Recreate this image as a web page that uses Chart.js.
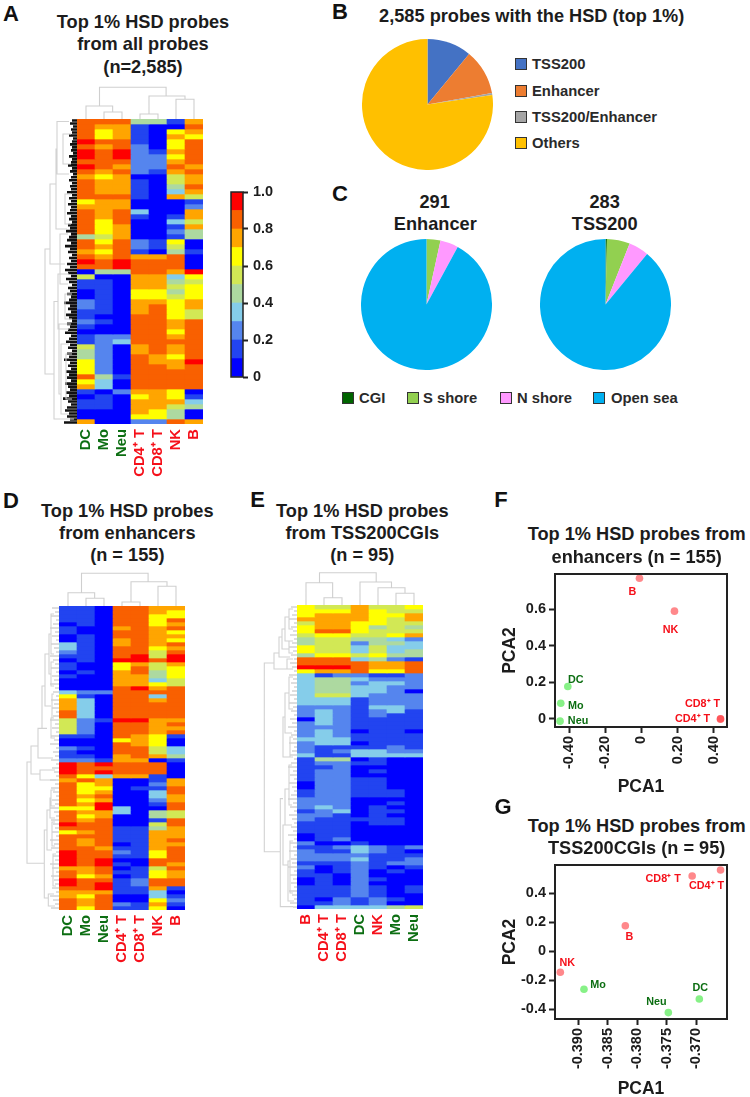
<!DOCTYPE html>
<html><head><meta charset="utf-8">
<style>
html,body{margin:0;padding:0;background:#fff;width:750px;height:1097px;overflow:hidden}
body{position:relative;font-family:"Liberation Sans",Arial,sans-serif;filter:blur(.35px)}
canvas{position:absolute;display:block}
.t{position:absolute;transform:translate(-50%,-50%);white-space:nowrap;font-weight:bold;color:#1c1c1c;font-size:18.2px;line-height:1}
.p{font-size:22px;color:#111}
.l{position:absolute;transform:translateY(-50%);white-space:nowrap;font-weight:bold;color:#2a2a2a;font-size:14.8px;line-height:1}
.s{position:absolute;width:10px;height:10px;border:1.5px solid #333;transform:translateY(-50%)}
</style>
<script src="https://cdn.jsdelivr.net/npm/chart.js@4"></script>
</head><body>
<script>
// ---------- heat-map palette (value bin 0..9 = 0.0-0.1 ... 0.9-1.0)
const bins=['#0000ff','#2244f0','#5585ee','#85cdea','#add9a0','#d2e855','#ffff00','#ffa500','#f96000','#ff0000'];
const binValues=[0.1,0.1,0.1,0.1,0.1,0.1,0.1,0.1,0.1,0.1];
const barTicks=[0,0.2,0.4,0.6,0.8,1];

const colsAD=['DC','Mo','Neu','CD4\u207A T','CD8\u207A T','NK','B'];
const colsE=['B','CD4\u207A T','CD8\u207A T','DC','NK','Mo','Neu'];
const GREEN='#0c6e12',RED='#f5101a';
const colColorAD=[GREEN,GREEN,GREEN,RED,RED,RED,RED];
const colColorE=[RED,RED,RED,GREEN,RED,GREEN,GREEN];

const heatA=[
[8,8,8,4,4,1,7],[8,7,7,1,0,0,8],[8,6,7,1,0,6,7],[8,6,7,1,0,7,6],[9,8,8,1,0,6,8],[8,7,8,2,0,6,8],
[9,8,9,2,1,7,8],[9,8,9,2,2,6,8],[8,8,8,2,2,7,8],[9,8,7,2,2,8,7],[8,7,8,2,1,7,8],[7,6,7,0,0,5,7],
[8,7,7,1,0,5,7],[8,7,7,1,0,4,8],[8,7,7,1,0,3,7],[8,8,8,1,0,7,5],[6,7,7,0,0,0,1],[7,7,7,0,0,0,2],
[8,7,8,3,0,0,7],[8,7,8,1,0,1,7],[8,6,8,0,0,3,5],[8,6,7,0,0,1,7],[8,6,7,0,0,2,4],[4,5,7,0,0,1,4],
[8,6,8,2,1,6,0],[8,7,8,2,1,5,0],[7,6,8,1,0,4,1],[8,7,8,7,7,8,0],[9,8,9,8,8,8,0],[8,8,9,8,8,8,0],
[0,4,4,8,8,7,9],[5,0,0,7,7,3,6],[1,1,0,7,7,4,5],[1,1,0,7,7,5,6],[0,1,0,6,6,4,6],[0,1,0,6,6,5,6],
[2,1,0,7,7,6,7],[2,1,0,7,8,6,7],[1,1,0,7,8,6,5],[1,0,0,8,8,6,5],[2,1,0,8,8,7,8],[1,0,0,8,8,7,8],
[0,0,0,8,8,6,8],[1,2,2,8,8,7,8],[1,2,3,8,8,8,8],[5,2,0,7,8,7,8],[4,2,0,7,8,7,8],[4,2,0,8,7,6,8],
[6,2,0,8,7,7,9],[6,2,0,8,8,7,8],[6,2,0,8,8,8,8],[8,4,1,8,8,8,8],[6,3,0,8,8,8,8],[7,3,0,8,8,8,8],
[1,0,2,7,7,6,0],[0,1,0,6,7,6,1],[1,1,0,7,7,7,3],[1,1,0,7,7,5,4],[0,0,0,7,6,4,0],[0,0,0,6,6,4,0],
[7,0,0,2,2,8,7]];

const heatD=[
[1,1,0,8,8,7,7],[1,1,0,8,8,7,6],[1,1,0,8,8,6,6],[1,1,0,8,8,6,8],[0,1,0,8,8,6,7],[1,0,0,7,8,7,8],
[1,0,0,8,8,7,6],[0,1,0,8,8,7,7],[0,1,0,7,8,7,6],[3,1,0,7,8,7,8],[3,1,0,8,8,6,7],[2,1,0,8,8,5,8],
[1,1,0,8,9,5,9],[0,1,0,9,9,8,9],[1,0,0,6,7,5,7],[1,0,0,6,8,5,6],[0,1,0,7,8,4,6],[1,0,0,7,7,4,6],
[0,0,0,7,7,3,5],[0,0,0,7,7,6,5],[0,0,0,8,9,7,8],[3,2,2,8,8,8,8],[6,1,0,8,8,3,8],[7,3,0,8,8,7,8],
[7,3,0,8,8,8,8],[7,3,0,8,8,8,8],[8,3,0,8,8,8,8],[8,3,0,8,8,8,8],[5,2,1,9,9,7,7],[5,2,0,8,8,7,8],
[5,2,0,8,8,7,7],[5,2,0,8,8,7,8],[1,1,0,8,7,6,1],[0,0,0,6,7,6,0],[0,0,0,8,7,6,0],[2,1,0,8,8,5,3],
[1,0,0,8,8,5,3],[1,1,0,7,8,7,4],[2,2,1,7,7,0,1],[9,8,9,8,8,8,0],[9,8,8,8,8,8,0],[9,8,9,8,8,8,0],
[8,6,3,7,7,1,0],[7,8,7,0,0,1,7],[8,6,7,0,0,2,7],[8,6,6,0,1,1,8],[8,6,7,0,0,3,8],[8,7,8,0,0,3,7],
[8,6,7,0,0,2,7],[8,7,9,0,0,1,8],[6,6,9,3,0,0,8],[8,7,7,3,0,4,5],[8,6,7,0,0,4,5],[8,7,8,0,0,1,8],
[9,8,8,0,0,5,8],[8,8,8,1,1,4,7],[6,7,8,1,1,7,7],[8,8,8,1,1,7,7],[8,7,8,1,1,7,8],[8,7,8,0,1,7,7],
[8,8,7,1,1,7,8],[9,8,8,2,1,6,8],[9,8,8,1,1,6,8],[9,8,9,0,0,8,8],[9,8,9,1,0,8,7],[7,7,8,0,1,5,8],
[8,7,8,1,1,6,7],[8,6,7,0,1,6,7],[9,8,8,1,2,8,8],[9,8,9,1,2,8,8],[8,8,9,1,1,7,1],[7,7,7,1,1,3,0],
[7,6,8,0,0,3,1],[8,7,8,0,0,6,2],[8,7,8,2,1,7,1],[8,6,8,1,1,6,0]];

const heatE=[
[6,5,5,7,5,5,6],[6,6,6,7,6,5,5],[6,7,7,7,6,6,7],[7,7,7,7,6,5,7],[5,7,7,6,6,5,5],[6,7,7,6,4,5,4],
[6,8,8,6,5,5,5],[5,6,6,5,5,6,7],[4,5,5,4,4,3,2],[4,5,5,2,4,4,3],[6,5,5,3,5,3,3],[6,5,5,3,5,3,4],
[4,6,6,5,6,4,4],[8,8,8,3,4,2,1],[8,8,8,8,7,7,8],[9,9,9,8,7,7,8],[6,7,7,8,6,6,8],[3,1,2,2,1,1,2],
[3,4,4,3,2,2,2],[3,4,4,2,3,3,2],[3,4,4,3,3,2,2],[3,4,4,3,3,2,0],[3,5,5,3,2,2,2],[3,3,3,1,2,2,2],
[3,3,3,1,2,2,2],[2,2,2,1,3,3,2],[2,3,2,1,2,3,1],[2,3,2,1,2,1,1],[0,3,2,1,1,1,1],[2,3,2,1,1,1,1],
[2,2,2,1,1,1,1],[2,3,2,0,1,1,0],[2,3,2,1,1,1,1],[3,3,3,1,1,1,1],[2,3,3,0,1,1,1],[2,1,1,1,1,2,1],
[2,1,2,3,3,2,2],[3,1,1,3,3,3,3],[1,4,4,0,1,0,0],[1,2,2,1,1,0,0],[1,1,2,0,0,0,0],[1,2,2,0,1,0,0],
[1,2,2,0,0,0,0],[1,2,2,1,1,0,0],[0,2,2,1,1,0,0],[0,2,2,1,1,0,0],[1,2,2,1,1,1,0],[1,2,2,1,1,1,0],
[2,2,2,0,0,0,0],[2,2,2,0,0,1,0],[2,3,2,0,1,0,0],[1,2,3,0,1,1,0],[2,2,1,0,1,0,0],[2,1,1,1,1,1,0],
[1,1,1,0,1,1,0],[1,1,1,0,0,0,0],[1,1,1,0,0,0,0],[0,1,1,0,0,0,0],[0,1,2,0,0,0,0],[2,0,0,1,0,0,0],
[1,1,2,3,2,1,2],[2,1,1,3,2,1,0],[2,2,2,2,1,1,1],[2,2,2,3,1,1,2],[1,1,1,2,1,2,2],[2,0,1,2,1,0,1],
[1,0,1,2,0,1,0],[1,1,0,2,0,0,0],[0,1,0,2,1,0,0],[0,1,0,2,0,0,0],[1,1,1,2,1,0,1],[1,1,1,2,1,0,1],
[1,1,1,2,1,0,0],[1,0,2,1,2,1,0],[1,1,2,1,2,0,0],[0,3,3,3,3,4,5]];

// ---------- column dendrograms: [leftPos, leftHeight, rightPos, rightHeight, mergeHeight]
const topTreeA=[[0.5,0,1.98,7,13],[1.5,0,2.5,0,7],[3.5,0,4.5,0,5],[5.5,0,6.5,0,19.7],[4,5,6,19.7,23],[1.25,13,4.95,23,31.7]];
const topTreeD=[[0.5,0,1.98,7.7,13.3],[1.5,0,2.5,0,7.7],[3.5,0,4.5,0,4],[5.5,0,6.5,0,19.7],[4,4,6,19.7,24.3],[1.25,13.3,4.95,24.3,32.7]];
const topTreeE=[[0.5,0,1.98,7.3,22.3],[1.5,0,2.5,0,7.3],[5.5,0,6.5,0,11.7],[4.5,0,6.0,11.7,17.3],[3.5,0,5.25,17.3,23],[1.25,22.3,4.4,23,32.3]];

// ---------- row dendrograms: [row1, dist1, row2, dist2, mergeDist]
const rowTreeA=[[0.5,8,11,8,20],[6,20,22,10,21],[13,21,29,12,27],[23,9,33,9,17],[31,8,42,8,19],[45,8,59,8,16],[36.5,19,60,3,23],[41,6,55,16,18],[26,27,51,23,32],[3,6,9,6,14],[15,6,21,6,12],[35,5,40,5,12],[47,5,56,5,11]];
const rowTreeD=[[2,5,12,5,8],[14,5,20,5,8],[7,8,17,8,10],[22,5,28,5,7],[28,5,33,4,8],[12,10,25,8,14],[20,14,30.6,12,17],[30.6,17,38,6,21],[35,21,42,19,28],[41,4,43.5,3,19],[39,28,64.3,14.7,32],[46,4,50,4,8],[48,8,53,4,9],[51,9,61,7,12],[56,12,73,10.7,14.7],[54,4,60,4,7],[62,3,70,3,6],[72,5,75,4,10.7]];
const rowTreeE=[[1,4,6,4,8],[3,8,9,8,12],[9,4,12,4,8],[6,12,11,8,15],[8,15,13,7,18],[12,18,16,10,23],[13.5,4,16,4,10],[18,4,26,4,8],[22,8,32,5,12],[33,4,38,4,7],[28,12,38,7,14],[40,5,50,5,8],[46,8,55,5,12],[59,4,72,4,7],[64,7,74,3,9],[55,12,65,9,14],[48.4,14,75.4,4,16.7],[14.5,23,61.7,16.7,32.7]];
// leaf lengths, top to bottom
const leavesA=[5,7,4,6,5,8,4,5,7,5,6,4,8,5,6,9,5,7,4,6,8,5,7,6,10,5,8,6,9,6,7,10,6,8,5,9,7,11,6,8,10,6,12,7,9,5,8,6,10,7,12,9,6,11,8,5,9,7,10,6,8,13,7,9,6,11,8,5,10,7,9,12,6,8,11,7,9,5,10,8,13,7,9,6,11,8,10,6,12,9,7,11,8,14,9,6,10,12,8,10,7,13];
const leavesD=[7,4,8,3,6,9,4,7,3,8,5,3,9,6,4,8,3,7,5,9,4,6,3,8,5,7,3,6,9,4,7,3,8,5,9,3,6,4,8,3,7,5,3,9,4,8,6,3,7,4,9,5,3,8,6,4,7,3,9,5,8,3,6,4,9,7,3,8,5,4,7,3,9,6,4,8];
const leavesE=[6,3,5,8,3,6,4,7,3,5,8,4,6,3,7,5,3,8,4,6,3,5,7,3,8,4,6,3,7,5,9,3,6,4,8,3,5,7,3,6,9,4,7,3,8,5,3,6,9,4,7,3,8,5,3,6,4,9,3,7,4,8,3,6,5,9,3,7,4,6,3,8,5,3,7,4];

// ---------- pies
const pieBLabels=['TSS200','Enhancer','TSS200/Enhancer','Others'];
const pieBValues=[283,291,13,1998];
const pieBColors=['#4472c4','#ed7d31','#a5a5a5','#ffc000'];
const pieCLabels=['CGI','S shore','N shore','Open sea'];
const pieC1Values=[0,10,13,268];
const pieC2Values=[1,16,14,252];
const pieCColors=['#006400','#92d050','#ff99ff','#00b0f0'];

// ---------- PCA
const pcaNames=['B','NK','DC','Mo','Neu','CD8\u207A T','CD4\u207A T'];
const pcaF1=[-0.011,0.183,-0.408,-0.447,-0.451,0.438,0.438];
const pcaF2=[0.769,0.589,0.177,0.086,-0.012,0.001,-0.001];
const pcaG1=[-0.3820,-0.39299,-0.36949,-0.38899,-0.37473,-0.3707,-0.3659];
const pcaG2=[0.175,-0.145,-0.329,-0.262,-0.423,0.517,0.559];
const pcaIsT=[1,1,0,0,0,1,1];
const pcaFxTicks=[-0.4,-0.2,0,0.2,0.4];
const pcaFyTicks=[0,0.2,0.4,0.6];
const pcaGxTicks=[-0.39,-0.385,-0.38,-0.375,-0.37];
const pcaGyTicks=[-0.4,-0.2,0,0.2,0.4];
// label offsets from their point
const pcaFdx=[-7,-4,8,15,18,-18,-28],pcaFdy=[14,19,-7,3,0,-15,0];
const pcaGdx=[4,7,1,14,-12,-29,-14],pcaGdy=[11,-9,-11,-4,-11,3,16];

// ---------- page helpers
Chart.defaults.font.family='"Liberation Sans",Arial,sans-serif';
Chart.defaults.animation=false;
Chart.defaults.responsive=false;
Chart.defaults.maintainAspectRatio=false;
Chart.defaults.plugins.legend.display=false;
Chart.defaults.plugins.tooltip.enabled=false;
Chart.defaults.plugins.title.display=false;

function canvas(l,t,w,h){const c=document.createElement('canvas');c.width=w;c.height=h;c.style.left=l+'px';c.style.top=t+'px';c.style.width=w+'px';c.style.height=h+'px';document.body.appendChild(c);return c;}
function text(s,cx,cy,cls){const d=document.createElement('div');d.className='t '+(cls||'');d.textContent=s;d.style.left=cx+'px';d.style.top=cy+'px';document.body.appendChild(d);}
function legend(label,color,sx,tx,cy){const b=document.createElement('div');b.className='s';b.style.left=sx+'px';b.style.top=cy+'px';b.style.background=color;document.body.appendChild(b);
 const d=document.createElement('div');d.className='l';d.textContent=label;d.style.left=tx+'px';d.style.top=cy+'px';document.body.appendChild(d);}

function heatmap(rows,labels,colors,l,t,rowPx,colPx){
 const H=rows.length*rowPx;
 new Chart(canvas(l,t,colPx*7,H+66),{type:'bar',
  data:{labels,datasets:rows.map(r=>({data:r.map(()=>1),backgroundColor:r.map(v=>bins[v]),borderWidth:0,barPercentage:1,categoryPercentage:1}))},
  options:{layout:{padding:0},
   scales:{
    x:{stacked:true,grid:{display:false,drawTicks:false},border:{display:false},
       afterFit:s=>{s.height=66;s.paddingLeft=0;s.paddingRight=0;},
       ticks:{autoSkip:false,minRotation:90,maxRotation:90,padding:5,color:c=>colors[c.index],font:{size:14.8,weight:'bold'}}},
    y:{stacked:true,display:false,reverse:true,min:0,max:rows.length}}}});
}
function treePoints(m,fx,fy){const p=[];m.forEach(a=>{p.push(fx(a[0],a[1]),fx(a[0],a[4]),fx(a[2],a[4]),fx(a[2],a[3]),{x:null,y:null});});return p;}
function topTree(m,l,t,w,h){
 new Chart(canvas(l,t,w,h),{type:'scatter',
  data:{datasets:[{data:treePoints(m,(p,v)=>({x:p,y:v})),showLine:true,spanGaps:false,pointRadius:0,borderColor:'#cfcfcf',borderWidth:1.1,clip:false}]},
  options:{layout:{padding:0},scales:{x:{display:false,min:0,max:7},y:{display:false,min:0,max:h}}}});
}
function rowTree(m,leaves,leafColor,leafW,rows,l,t,w,h){
 const lp=[];leaves.forEach((v,i)=>{const r=(i+0.5)*rows/leaves.length;lp.push({x:0,y:r},{x:v,y:r},{x:null,y:null});});
 new Chart(canvas(l,t,w,h),{type:'scatter',
  data:{datasets:[
   {data:treePoints(m,(p,v)=>({x:v,y:p})),showLine:true,spanGaps:false,pointRadius:0,borderColor:'#d2d2d2',borderWidth:1.1,clip:false},
   {data:lp,showLine:true,spanGaps:false,pointRadius:0,borderColor:leafColor,borderWidth:leafW,clip:false}]},
  options:{layout:{padding:0},scales:{x:{display:false,min:0,max:w,reverse:true},y:{display:false,min:0,max:rows,reverse:true}}}});
}
function pie(values,colors,labels,cx,cy){
 const R=65.5;
 new Chart(canvas(cx-R,cy-R,131,131),{type:'pie',
  data:{labels,datasets:[{data:values,backgroundColor:colors,borderWidth:0}]},
  options:{layout:{padding:0},rotation:0}});
}
const boxPlugin={id:'box',afterDraw(c){const a=c.chartArea,x=c.ctx;x.save();x.strokeStyle='#222';x.lineWidth=2;x.strokeRect(a.left,a.top,a.right-a.left,a.bottom-a.top);x.restore();}};
const ptLabels={id:'ptLabels',afterDatasetsDraw(c,args,o){const x=c.ctx,ms=c.getDatasetMeta(0).data;x.save();x.font='bold 10.8px "Liberation Sans",Arial';x.textAlign='center';x.textBaseline='middle';
 ms.forEach((p,i)=>{x.fillStyle=pcaIsT[i]?RED:GREEN;x.fillText(pcaNames[i],p.x+o.dx[i],p.y+o.dy[i]);});x.restore();}};
function scatter(xs,ys,xTicks,yTicks,xr,yr,dx,dy,fx,fy,l,t,w,h,axisW,axisH){
 const tickFont={size:14.5,weight:'bold'},titleFont={size:17.5,weight:'bold'};
 new Chart(canvas(l,t,w,h),{type:'scatter',plugins:[boxPlugin,ptLabels],
  data:{datasets:[{data:xs.map((v,i)=>({x:v,y:ys[i]})),pointRadius:3.8,borderWidth:0,
     backgroundColor:xs.map((v,i)=>pcaIsT[i]?'rgba(255,50,55,.58)':'rgba(55,232,55,.6)')}]},
  options:{layout:{padding:{top:12,right:14}},plugins:{ptLabels:{dx,dy}},
   scales:{
    x:{type:'linear',min:xr[0],max:xr[1],
      afterBuildTicks:s=>{s.ticks=xTicks.map(v=>({value:v}));},
      afterFit:s=>{s.height=axisH;s.paddingLeft=0;s.paddingRight=0;},
      grid:{drawOnChartArea:false,drawTicks:true,tickLength:6,tickWidth:2,tickColor:'#222'},border:{color:'#222',width:2},
      title:{display:true,text:'PCA1',color:'#1c1c1c',font:titleFont},
      ticks:{minRotation:90,maxRotation:90,padding:3,autoSkip:false,color:'#1c1c1c',font:tickFont,callback:fx}},
    y:{type:'linear',min:yr[0],max:yr[1],
      afterBuildTicks:s=>{s.ticks=yTicks.map(v=>({value:v}));},
      afterFit:s=>{s.width=axisW;s.paddingTop=0;s.paddingBottom=0;},
      grid:{drawOnChartArea:false,drawTicks:true,tickLength:6,tickWidth:2,tickColor:'#222'},border:{color:'#222',width:2},
      title:{display:true,text:'PCA2',color:'#1c1c1c',font:titleFont},
      ticks:{padding:3,autoSkip:false,color:'#1c1c1c',font:tickFont,callback:fy}}}}});
}

// ---------- panels
// A
heatmap(heatA,colsAD,colColorAD,77,119,5,18);
topTree(topTreeA,77,83,126,36);
rowTree(rowTreeA,leavesA,'#111',2.6,heatA.length,37,119,40,305);
// colour bar
new Chart(canvas(229,180,72,209),{type:'bar',
 plugins:[{id:'cb',afterDraw(c){const a=c.chartArea,x=c.ctx;x.save();x.strokeStyle='#222';x.lineWidth=1.5;x.strokeRect(a.left,a.top,a.right-a.left,a.bottom-a.top);x.restore();}}],
 data:{labels:[''],datasets:binValues.map((v,i)=>({data:[v],backgroundColor:bins[i],borderWidth:0,barPercentage:1,categoryPercentage:1}))},
 options:{layout:{padding:{top:12,bottom:12,left:2}},
  scales:{x:{stacked:true,display:false},
   y:{stacked:true,position:'right',min:0,max:1,
     afterBuildTicks:s=>{s.ticks=barTicks.map(v=>({value:v}));},
     afterFit:s=>{s.width=58;s.paddingTop=0;s.paddingBottom=0;},
     grid:{drawOnChartArea:false,drawTicks:true,tickLength:5,tickWidth:2,tickColor:'#222'},border:{display:false},
     ticks:{padding:5,color:'#1c1c1c',font:{size:14.5,weight:'bold'},callback:v=>v===0?'0':v.toFixed(1)}}}}});
// B, C
pie(pieBValues,pieBColors,pieBLabels,427.7,104);
pie(pieC1Values,pieCColors,pieCLabels,426,304);
pie(pieC2Values,pieCColors,pieCLabels,605.7,304);
[64,91,117,143].forEach((y,i)=>legend(pieBLabels[i],pieBColors[i],515,532,y));
[[342,359],[407,423],[500,517],[593,611]].forEach((p,i)=>legend(pieCLabels[i],pieCColors[i],p[0],p[1],398));
// D
heatmap(heatD,colsAD,colColorAD,59,606,4,18);
topTree(topTreeD,59,570,126,36);
rowTree(rowTreeD,leavesD,'#bcbcbc',1,heatD.length,23,606,36,304);
// E
heatmap(heatE,colsE,colColorE,297,605,4,18);
topTree(topTreeE,297,569,126,36);
rowTree(rowTreeE,leavesE,'#bcbcbc',1,heatE.length,260,605,37,304);
// F, G
scatter(pcaF1,pcaF2,pcaFxTicks,pcaFyTicks,[-0.479,0.474],[-0.044,0.792],pcaFdx,pcaFdy,
  v=>v===0?'0':v.toFixed(2),v=>v===0?'0':v.toFixed(1),496,562,245,240,59,75);
scatter(pcaG1,pcaG2,pcaGxTicks,pcaGyTicks,[-0.39389,-0.36481],[-0.467,0.593],pcaGdx,pcaGdy,
  v=>v.toFixed(3),v=>v===0?'0':v.toFixed(1),496,853,245,251,59,85);

// ---------- titles
[['Top 1% HSD probes',143,22],['from all probes',143,44],['(n=2,585)',143,66.5],
 ['2,585 probes with the HSD (top 1%)',531.7,16],
 ['291',434.7,202],['Enhancer',435.3,224],['283',604.7,202],['TSS200',604.7,224],
 ['Top 1% HSD probes',127.3,511],['from enhancers',127.3,533.3],['(n = 155)',127.3,555.3],
 ['Top 1% HSD probes',362.3,511],['from TSS200CGIs',362.3,533.3],['(n = 95)',362.3,555.3],
 ['Top 1% HSD probes from',636.7,534.3],['enhancers (n = 155)',636.7,556.7],
 ['Top 1% HSD probes from',636.7,826],['TSS200CGIs (n = 95)',636.7,848.3]
].forEach(a=>text(a[0],a[1],a[2]));
[['A',11,14],['B',340,12],['C',340,194],['D',11,500.7],['E',257.5,500],['F',501,500],['G',503,807]].forEach(a=>text(a[0],a[1],a[2],'p'));
</script>
</body></html>
